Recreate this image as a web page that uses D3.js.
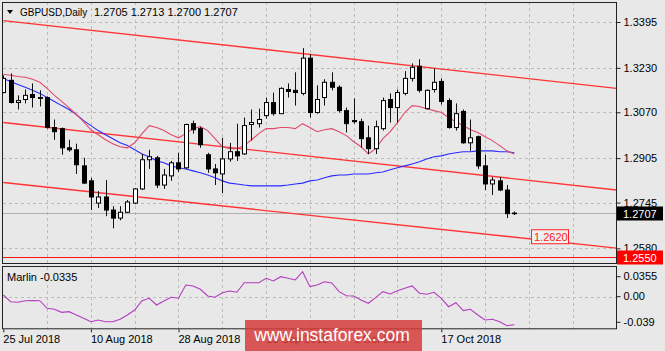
<!DOCTYPE html>
<html lang="en">
<head>
<meta charset="utf-8">
<script src="https://d3js.org/d3.v7.min.js"></script>
<style>
    body { margin: 0; background: #e8e8e8; }
    text { font-family: "Liberation Sans", Arial, sans-serif; }
</style>
</head>
<body>
<script>
// GBPUSD daily bars, 25 Jul 2018 .. 31 Oct 2018
var open = [1.3141,1.3185,1.3105,1.3116,1.3134,1.3123,1.3123,1.3015,1.3011,1.2942,
            1.2935,1.2877,1.2823,1.2743,1.2765,1.2718,1.2689,1.2710,1.2743,1.2794,
            1.2899,1.2906,1.2808,1.2841,1.2888,1.2870,1.3029,1.3011,1.2917,1.2866,
            1.2848,1.2902,1.2928,1.2920,1.3026,1.3029,1.3058,1.3105,1.3065,1.3152,
            1.3149,1.3138,1.3265,1.3069,1.3123,1.3178,1.3160,1.3076,1.3040,1.3036,
            1.2978,1.2939,1.3011,1.3116,1.3087,1.3138,1.3192,1.3236,1.3083,1.3152,
            1.3181,1.3112,1.3015,1.3073,1.2960,1.2982,1.2877,1.2812,1.2823,1.2790,1.2705];
var high = [1.3203,1.3210,1.3131,1.3152,1.3174,1.3149,1.3127,1.3044,1.3015,1.2971,
            1.2957,1.2906,1.2834,1.2786,1.2826,1.2732,1.2732,1.2754,1.2797,1.2920,
            1.2935,1.2913,1.2866,1.2895,1.2924,1.3029,1.3040,1.3018,1.2924,1.2884,
            1.2978,1.2960,1.3029,1.3051,1.3080,1.3083,1.3123,1.3141,1.3160,1.3174,
            1.3214,1.3301,1.3279,1.3167,1.3189,1.3214,1.3167,1.3087,1.3120,1.3047,
            1.3022,1.3040,1.3123,1.3138,1.3152,1.3218,1.3246,1.3261,1.3152,1.3228,
            1.3192,1.3120,1.3102,1.3080,1.3044,1.2986,1.2917,1.2837,1.2837,1.2808,1.2713];
var low = [1.3138,1.3102,1.3080,1.3102,1.3087,1.3091,1.3011,1.2971,1.2917,1.2928,
           1.2848,1.2812,1.2718,1.2725,1.2696,1.2652,1.2681,1.2707,1.2739,1.2790,
           1.2866,1.2797,1.2794,1.2823,1.2855,1.2866,1.2993,1.2942,1.2852,1.2808,
           1.2779,1.2892,1.2895,1.2917,1.2968,1.3015,1.3047,1.3058,1.3065,1.3123,
           1.3094,1.3131,1.3051,1.3065,1.3094,1.3149,1.3069,1.2997,1.3029,1.2942,
           1.2920,1.2920,1.3004,1.3033,1.3033,1.3131,1.3181,1.3141,1.3080,1.3141,
           1.3098,1.3011,1.3004,1.2957,1.2931,1.2866,1.2790,1.2772,1.2786,1.2689,1.2700];
var close = [1.3192,1.3105,1.3112,1.3131,1.3123,1.3120,1.3015,1.3000,1.2942,1.2935,
             1.2881,1.2815,1.2765,1.2765,1.2718,1.2689,1.2710,1.2747,1.2794,1.2899,
             1.2910,1.2808,1.2844,1.2888,1.2866,1.3026,1.3007,1.2953,1.2866,1.2852,
             1.2902,1.2928,1.2913,1.3022,1.3033,1.3044,1.3105,1.3065,1.3156,1.3145,
             1.3141,1.3265,1.3069,1.3116,1.3178,1.3160,1.3076,1.3029,1.3036,1.2975,
             1.2939,1.3018,1.3112,1.3087,1.3141,1.3192,1.3232,1.3149,1.3149,1.3178,
             1.3109,1.3015,1.3065,1.2960,1.2978,1.2877,1.2812,1.2826,1.2790,1.2705,1.2707];

// moving averages as drawn
var redMA = [1.3207,1.3203,1.3199,1.3196,1.3189,1.3178,1.3156,1.3131,1.3109,1.3087,
             1.3062,1.3036,1.3007,1.2989,1.2971,1.2957,1.2946,1.2942,1.2960,1.2993,
             1.3022,1.3015,1.3004,1.2989,1.2978,1.2993,1.3011,1.3018,1.3004,1.2975,
             1.2946,1.2939,1.2939,1.2950,1.2971,1.2993,1.3011,1.3011,1.3015,1.3015,
             1.3011,1.3029,1.3015,1.3000,1.3007,1.3011,1.3000,1.2986,1.2964,1.2946,
             1.2920,1.2939,1.2975,1.3000,1.3033,1.3069,1.3094,1.3091,1.3083,1.3076,
             1.3069,1.3051,1.3036,1.3022,1.3007,1.2997,1.2982,1.2968,1.2950,1.2931,1.2920];
var blueMA = [1.3192,1.3181,1.3170,1.3160,1.3149,1.3138,1.3123,1.3109,1.3094,1.3080,
              1.3062,1.3040,1.3022,1.3004,1.2989,1.2975,1.2960,1.2950,1.2935,1.2920,
              1.2910,1.2895,1.2888,1.2877,1.2870,1.2866,1.2859,1.2852,1.2844,1.2834,
              1.2823,1.2815,1.2812,1.2808,1.2805,1.2805,1.2805,1.2805,1.2805,1.2808,
              1.2812,1.2815,1.2823,1.2826,1.2834,1.2841,1.2844,1.2844,1.2848,1.2848,
              1.2848,1.2852,1.2855,1.2863,1.2870,1.2877,1.2884,1.2892,1.2902,1.2910,
              1.2913,1.2920,1.2924,1.2928,1.2928,1.2931,1.2931,1.2931,1.2928,1.2928,1.2924];

// Marlin oscillator
var marlin = [0.0020,-0.0060,-0.0067,-0.0048,-0.0045,-0.0048,-0.0139,-0.0151,-0.0187,-0.0179,
              -0.0219,-0.0258,-0.0299,-0.0279,-0.0299,-0.0299,-0.0270,-0.0219,-0.0159,-0.0048,
              -0.0019,-0.0099,-0.0051,-0.0007,-0.0019,0.0140,0.0128,0.0089,0.0008,-0.0007,
              0.0048,0.0068,0.0053,0.0167,0.0167,0.0167,0.0220,0.0188,0.0239,0.0220,
              0.0200,0.0299,0.0120,0.0140,0.0179,0.0164,0.0060,0.0012,0.0008,-0.0039,
              -0.0079,-0.0012,0.0060,0.0032,0.0072,0.0100,0.0128,0.0041,0.0029,0.0053,
              -0.0019,-0.0120,-0.0072,-0.0167,-0.0151,-0.0219,-0.0279,-0.0270,-0.0299,-0.0347,-0.0335];

// channel lines [bar index, price]
var channelTop = [[0, 1.3400], [84, 1.3156]];
var channelMid = [[0, 1.3033], [84, 1.2790]];
var channelLow = [[0, 1.2817], [84, 1.2581]];
var supportLevel = 1.2550;
var targetLevel = 1.2620;
var lastPrice = 1.2707;

// axis labels
var priceTicks = [1.3395, 1.3230, 1.3070, 1.2905, 1.2745, 1.2580];
var marlinTicks = [0.0355, 0, -0.039];
var marlinTickLabels = ["0.0355", "0.00", "-0.039"];
var dateTicks = [0, 12, 24, 36, 48, 60];
var dateLabels = ["25 Jul 2018", "10 Aug 2018", "28 Aug 2018", "13 Sep 2018", "1 Oct 2018", "17 Oct 2018"];

var width = 665, height = 351;
var left = 3, right = 617;
var mainTop = 2, mainBottom = 264;
var indTop = 267, indBottom = 329.3;

var svg = d3.select("body").append("svg")
            .attr("width", width)
            .attr("height", height);

var x = d3.scaleLinear().domain([0, 70]).range([3.3, 514.3]);
var y = d3.scaleLinear().domain([1.2550, 1.3395]).range([256.7, 22]);
var ym = d3.scaleLinear().domain([-0.039, 0.0355]).range([indBottom, indTop]);

svg.append("rect").attr("width", width).attr("height", height).attr("fill", "#e8e8e8");

var defs = svg.append("defs");
defs.append("clipPath").attr("id", "clipMain")
    .append("rect").attr("x", left).attr("y", mainTop).attr("width", right - left).attr("height", mainBottom - mainTop);
defs.append("clipPath").attr("id", "clipInd")
    .append("rect").attr("x", left).attr("y", indTop).attr("width", right - left).attr("height", indBottom - indTop);

// grid
var gridColor = "#bcbcbc";
var vGrid = d3.range(6, 84, 6);
svg.append("g").selectAll("line").data(vGrid).enter().append("line")
    .attr("x1", function(d){ return Math.round(x(d)) + 0.5; })
    .attr("x2", function(d){ return Math.round(x(d)) + 0.5; })
    .attr("y1", mainTop).attr("y2", mainBottom)
    .attr("stroke", gridColor).attr("stroke-dasharray", "3,3");
svg.append("g").selectAll("line").data(vGrid).enter().append("line")
    .attr("x1", function(d){ return Math.round(x(d)) + 0.5; })
    .attr("x2", function(d){ return Math.round(x(d)) + 0.5; })
    .attr("y1", indTop).attr("y2", indBottom)
    .attr("stroke", gridColor).attr("stroke-dasharray", "3,3");
svg.append("g").selectAll("line").data(priceTicks).enter().append("line")
    .attr("x1", left).attr("x2", right)
    .attr("y1", function(d){ return Math.round(y(d)) + 0.5; })
    .attr("y2", function(d){ return Math.round(y(d)) + 0.5; })
    .attr("stroke", gridColor).attr("stroke-dasharray", "3,3");
svg.append("line")
    .attr("x1", left).attr("x2", right)
    .attr("y1", Math.round(ym(0)) + 0.5).attr("y2", Math.round(ym(0)) + 0.5)
    .attr("stroke", gridColor).attr("stroke-dasharray", "3,3");

var main = svg.append("g").attr("clip-path", "url(#clipMain)");

// last price line
main.append("line")
    .attr("x1", left).attr("x2", right)
    .attr("y1", Math.round(y(lastPrice)) + 0.5).attr("y2", Math.round(y(lastPrice)) + 0.5)
    .attr("stroke", "#b0b0b0");

// support level
main.append("line")
    .attr("x1", left).attr("x2", right)
    .attr("y1", Math.round(y(supportLevel)) + 0.5).attr("y2", Math.round(y(supportLevel)) + 0.5)
    .attr("stroke", "#ff1010");

// channel
var chLine = d3.line().x(function(d){ return x(d[0]); }).y(function(d){ return y(d[1]); });
[channelTop, channelMid, channelLow].forEach(function(c){
    main.append("path").attr("d", chLine(c))
        .attr("fill", "none").attr("stroke", "#ff3535").attr("stroke-width", 1.4);
});

// moving averages
var maLine = d3.line().x(function(d, i){ return x(i); }).y(function(d){ return y(d); });
main.append("path").attr("d", maLine(blueMA))
    .attr("fill", "none").attr("stroke", "#2a2aff").attr("stroke-width", 1.1);
main.append("path").attr("d", maLine(redMA))
    .attr("fill", "none").attr("stroke", "#e24a6a").attr("stroke-width", 1.1);

// candles
var bars = d3.range(open.length);
var candle = main.append("g").selectAll("g").data(bars).enter().append("g");
candle.append("line")
    .attr("x1", function(i){ return Math.round(x(i)) + 0.5; })
    .attr("x2", function(i){ return Math.round(x(i)) + 0.5; })
    .attr("y1", function(i){ return y(high[i]); })
    .attr("y2", function(i){ return y(low[i]); })
    .attr("stroke", "#111");
candle.append("rect")
    .attr("x", function(i){ return Math.round(x(i)) - 2 + 0.5; })
    .attr("width", 4)
    .attr("y", function(i){ return y(Math.max(open[i], close[i])); })
    .attr("height", function(i){ return Math.max(0.6, Math.abs(y(open[i]) - y(close[i]))); })
    .attr("fill", function(i){ return close[i] >= open[i] ? "#ffffff" : "#000000"; })
    .attr("stroke", "#000");

// target label 1.2620
var tx = 531, ty = y(targetLevel);
svg.append("rect").attr("x", tx + 0.5).attr("y", ty - 7.5).attr("width", 37).attr("height", 14)
    .attr("fill", "#efefef").attr("stroke", "#ff2020");
svg.append("text").attr("x", tx + 3).attr("y", ty + 3.5)
    .attr("font-size", 11).attr("fill", "#ff1a1a").text(targetLevel.toFixed(4));

// indicator
var ind = svg.append("g").attr("clip-path", "url(#clipInd)");
ind.append("path")
    .attr("d", d3.line().x(function(d, i){ return x(i); }).y(function(d){ return ym(d); })(marlin))
    .attr("fill", "none").attr("stroke", "#b43cc0").attr("stroke-width", 1.1);

// frames
svg.append("rect").attr("x", left - 0.5).attr("y", mainTop + 0.5)
    .attr("width", right - left).attr("height", mainBottom - mainTop - 1)
    .attr("fill", "none").attr("stroke", "#222");
svg.append("rect").attr("x", left - 0.5).attr("y", indTop - 0.5)
    .attr("width", right - left).attr("height", indBottom - indTop)
    .attr("fill", "none").attr("stroke", "#222");

// price axis
var yAxis = svg.append("g").attr("transform", "translate(" + (right - 0.5) + ",0)")
    .call(d3.axisRight(y).tickValues(priceTicks).tickFormat(d3.format(".4f")).tickSize(4).tickPadding(3));
yAxis.select(".domain").remove();
yAxis.selectAll("text").attr("font-size", 11).attr("fill", "#000").attr("font-family", "Liberation Sans, Arial, sans-serif");
yAxis.selectAll("line").attr("stroke", "#222");

// marlin axis (end labels are kept inside the panel)
var mAxis = svg.append("g").attr("transform", "translate(" + (right - 0.5) + ",0)")
    .call(d3.axisRight(ym).tickValues(marlinTicks)
        .tickFormat(function(d, i){ return marlinTickLabels[i]; }).tickSize(4).tickPadding(3));
mAxis.select(".domain").remove();
mAxis.selectAll(".tick").attr("transform", function(d){
    var off = d === 0.0355 ? 9.7 : (d === -0.039 ? -7 : 0);
    return "translate(0," + (ym(d) + off) + ")";
});
mAxis.selectAll("text").attr("font-size", 11).attr("fill", "#000").attr("font-family", "Liberation Sans, Arial, sans-serif");
mAxis.selectAll("line").attr("stroke", "#222");

// date axis
var xAxis = svg.append("g").attr("transform", "translate(0," + indBottom + ")")
    .call(d3.axisBottom(x).tickValues(dateTicks)
        .tickFormat(function(d, i){ return dateLabels[i]; }).tickSize(3).tickPadding(3));
xAxis.select(".domain").remove();
xAxis.selectAll("text").attr("font-size", 11).attr("fill", "#000")
    .attr("text-anchor", "start").attr("x", -0.5).attr("font-family", "Liberation Sans, Arial, sans-serif");
xAxis.selectAll("line").attr("stroke", "#222");

// price boxes on axis
function priceBox(v, bg){
    var cy = Math.round(y(v));
    svg.append("rect").attr("x", right).attr("y", cy - 6.5).attr("width", 46).attr("height", 14).attr("fill", bg);
    svg.append("text").attr("x", right + 6).attr("y", cy + 4.5).attr("font-size", 11)
        .attr("fill", "#fff").text(v.toFixed(4));
}
priceBox(lastPrice, "#000");
priceBox(supportLevel, "#ff0000");

// title
svg.append("path").attr("d", "M7,10L13,10L10,14Z").attr("fill", "#000");
svg.append("text").attr("x", 20).attr("y", 16).attr("font-size", 10).text("GBPUSD,Daily");
svg.append("text").attr("x", 94).attr("y", 16).attr("font-size", 11)
    .text([open[70], high[70], low[70], close[70]].map(function(v){ return v.toFixed(4); }).join(" "));
svg.append("text").attr("x", 7).attr("y", 281).attr("font-size", 11)
    .text("Marlin " + marlin[marlin.length - 1].toFixed(4));

// watermark
svg.append("rect").attr("x", 245).attr("y", 320).attr("width", 177).attr("height", 31)
    .attr("fill", "rgb(214,60,60)").attr("opacity", 0.85);
svg.append("text").attr("x", 332).attr("y", 341).attr("text-anchor", "middle")
    .attr("font-size", 17.5).attr("fill", "#fff").text("www.instaforex.com");
</script>
</body>
</html>
